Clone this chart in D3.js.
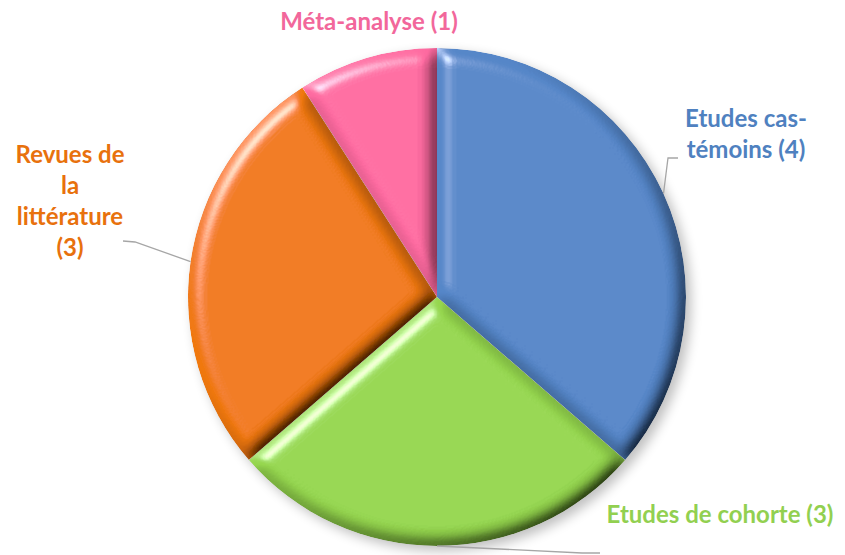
<!DOCTYPE html>
<html>
<head>
<meta charset="utf-8">
<script src="https://cdn.jsdelivr.net/npm/d3@7"></script>
<style>
  body { margin: 0; background: #fff; }
  svg { display: block; }
</style>
</head>
<body>
<svg id="chart"></svg>
<script>
// chart data
const categories = ["Etudes cas-témoins", "Etudes de cohorte", "Revues de la littérature", "Méta-analyse"];
const values = [4, 3, 3, 1];
const labelLines = [
    ["Etudes cas-", "témoins (4)"],
    ["Etudes de cohorte (3)"],
    ["Revues de", "la", "littérature", "(3)"],
    ["Méta-analyse (1)"]
];
const sliceColors = ["#5586c8", "#95d64e", "#f0780f", "#fd6aa0"];
const textColors = ["#4f81c0", "#92d050", "#e8710d", "#f2679b"];

const width = 845;
const height = 555;
const cx = 437, cy = 297;
const radius = 249;

// label anchor (text center x, first baseline y) and leader elbow point
const labelLayout = [
    { x: 746, y: 127, elbow: [668, 158], end: [678, 158] },
    { x: 720, y: 523, elbow: [582, 553], end: [600, 553] },
    { x: 70, y: 163, elbow: [135, 242], end: [123, 241] },
    { x: 369, y: 30, elbow: null, end: null }
];

const svg = d3.select("#chart")
    .attr("width", width)
    .attr("height", height);

const defs = svg.append("defs");

// bevel look: blur the alpha, light it, multiply onto fill
const bevel = defs.append("filter")
    .attr("id", "bevel")
    .attr("x", "-10%").attr("y", "-10%")
    .attr("width", "120%").attr("height", "120%");
bevel.append("feGaussianBlur")
    .attr("in", "SourceAlpha")
    .attr("stdDeviation", 8)
    .attr("result", "blur");
const diff = bevel.append("feDiffuseLighting")
    .attr("in", "blur")
    .attr("surfaceScale", 10)
    .attr("diffuseConstant", 1.31)
    .attr("lighting-color", "#fff")
    .attr("result", "diffuse");
diff.append("feDistantLight").attr("azimuth", 225).attr("elevation", 50);
bevel.append("feComposite")
    .attr("in", "SourceGraphic").attr("in2", "diffuse")
    .attr("operator", "arithmetic")
    .attr("k1", 1).attr("k2", 0).attr("k3", 0).attr("k4", 0)
    .attr("result", "shaded");
const spec = bevel.append("feSpecularLighting")
    .attr("in", "blur")
    .attr("surfaceScale", 10)
    .attr("specularConstant", 0.6)
    .attr("specularExponent", 30)
    .attr("lighting-color", "#fff")
    .attr("result", "spec");
spec.append("feDistantLight").attr("azimuth", 225).attr("elevation", 35);
bevel.append("feComposite")
    .attr("in", "spec").attr("in2", "SourceAlpha")
    .attr("operator", "in")
    .attr("result", "specIn");
bevel.append("feComposite")
    .attr("in", "shaded").attr("in2", "specIn")
    .attr("operator", "arithmetic")
    .attr("k1", 0).attr("k2", 1).attr("k3", 1).attr("k4", 0)
    .attr("result", "lit");
bevel.append("feComposite")
    .attr("in", "lit").attr("in2", "SourceAlpha")
    .attr("operator", "in");

// soft shadow behind the pie
const shadow = defs.append("filter")
    .attr("id", "shadow")
    .attr("x", "-20%").attr("y", "-20%")
    .attr("width", "140%").attr("height", "140%");
shadow.append("feGaussianBlur").attr("in", "SourceAlpha").attr("stdDeviation", 6).attr("result", "b");
shadow.append("feOffset").attr("in", "b").attr("dx", 5).attr("dy", 5).attr("result", "o");
shadow.append("feComponentTransfer").attr("in", "o")
    .append("feFuncA").attr("type", "linear").attr("slope", 0.25);

const pie = d3.pie().sort(null).value(d => d);
const arcs = pie(values);

const arc = d3.arc().innerRadius(0).outerRadius(radius);
const outerArc = d3.arc().innerRadius(radius).outerRadius(radius);

const g = svg.append("g").attr("transform", `translate(${cx},${cy})`);

// shadow
g.append("circle")
    .attr("r", radius)
    .attr("fill", "#000")
    .attr("filter", "url(#shadow)");

// slices
g.selectAll(".slice")
    .data(arcs)
    .enter()
    .append("path")
    .attr("class", "slice")
    .attr("d", arc)
    .attr("fill", (d, i) => sliceColors[i])
    .attr("filter", "url(#bevel)");

// leader lines
arcs.forEach((d, i) => {
    const L = labelLayout[i];
    if (!L.elbow) return;
    const start = outerArc.centroid(d);
    const pts = [
        [start[0] + cx, start[1] + cy],
        L.elbow,
        L.end
    ];
    svg.append("polyline")
        .attr("points", pts.map(p => p.join(",")).join(" "))
        .attr("fill", "none")
        .attr("stroke", "#a6a6a6")
        .attr("stroke-width", 1.3);
});

// labels
arcs.forEach((d, i) => {
    const L = labelLayout[i];
    const t = svg.append("text")
        .attr("x", L.x)
        .attr("y", L.y)
        .attr("text-anchor", "middle")
        .attr("font-family", "Lato, 'Open Sans', sans-serif")
        .attr("font-weight", "bold")
        .attr("font-size", "24px")
        .attr("fill", textColors[i]);
    labelLines[i].forEach((line, j) => {
        t.append("tspan")
            .attr("x", L.x)
            .attr("dy", j === 0 ? 0 : 31)
            .text(line);
    });
});
</script>
</body>
</html>
